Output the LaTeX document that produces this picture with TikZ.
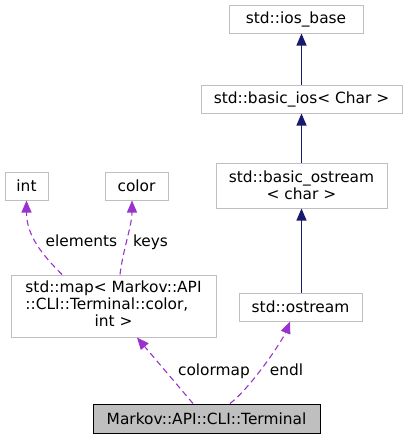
\documentclass[tikz,border=0pt]{standalone}
\usepackage{fontspec}
\setmainfont{DejaVu Sans}
\usetikzlibrary{arrows.meta, positioning, calc}
\definecolor{boxgray}{RGB}{191, 191, 191}
\definecolor{inhblue}{RGB}{25, 25, 112}
\definecolor{usepurple}{RGB}{154, 50, 205}

\begin{document}
\begin{tikzpicture}[x=1pt, y=-1pt,
    cls/.style={draw=boxgray, line width=1pt, font=\fontsize{15.4}{17.3}\selectfont, align=center, inner sep=0pt},
    main/.style={cls, draw=black, fill=boxgray},
    lbl/.style={font=\fontsize{15.4}{17.3}\selectfont, inner sep=0pt, anchor=base},
    inh/.style={-{Triangle[length=12pt, width=10pt]}, color=inhblue, line width=1.1pt},
    use/.style={-{Triangle[length=12pt, width=10pt]}, color=usepurple, line width=1.1pt, dash pattern=on 6pt off 4pt},
  ]
    \useasboundingbox (0,0) rectangle (407,439);

    \node[cls, minimum width=134pt, minimum height=28pt] (iosbase) at (296,19) {std::ios\_base};
    \node[cls, minimum width=201pt, minimum height=28pt] (basicios) at (301.5,99) {std::basic\_ios< Char >};
    \node[cls, minimum width=171pt, minimum height=45pt] (basicostream) at (301.5,185.5) {std::basic\_ostream\\< char >};
    \node[cls, minimum width=123pt, minimum height=28pt] (ostream) at (300.5,307) {std::ostream};

    \node[cls, minimum width=43pt, minimum height=28pt] (intn) at (26.5,186) {int};
    \node[cls, minimum width=63pt, minimum height=28pt] (color) at (136.5,186) {color};
    \node[cls, minimum width=205pt, minimum height=62pt] (map) at (113.5,306)
      {\begin{tabular}{@{}l@{}}std::map< Markov::API\\::CLI::Terminal::color,\\\multicolumn{1}{@{}c@{}}{int >}\end{tabular}};

    \node[main, minimum width=227pt, minimum height=29pt] (terminal) at (206.5,418.5) {Markov::API::CLI::Terminal};

    % inheritance
    \draw[inh] (basicios.north) -- (iosbase.south -| basicios.north);
    \draw[inh] (basicostream.north) -- (basicios.south);
    \draw[inh] (ostream.north -| basicostream.south) -- (basicostream.south);

    % usage
    \draw[use] ([xshift=-51.5pt]map.north) .. controls +(-20,-20) and +(0,35) .. (intn.south);
    \draw[use] ([xshift=6.5pt]map.north) .. controls +(3,-25) and +(0,25) .. ([xshift=-4.5pt]color.south);
    \draw[use] ([xshift=-13.5pt]terminal.north) -- ([xshift=23.5pt]map.south);
    \draw[use] ([xshift=23.5pt]terminal.north) .. controls +(20,-15) and +(-8,20) .. ([xshift=-10.5pt]ostream.south);

    \node[lbl] (lelements) at (81.5,246) {elements};
    \node[lbl] (lkeys) at (150.5,246) {keys};
    \node[lbl] (lcolormap) at (214,375) {colormap};
    \node[lbl] (lendl) at (286.5,375) {endl};

  \end{tikzpicture}
\end{document}
